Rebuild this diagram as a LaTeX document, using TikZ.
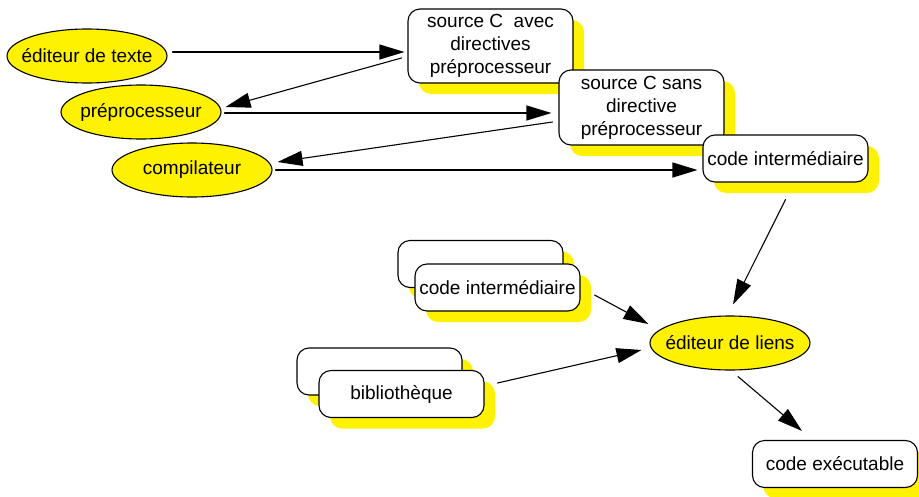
\documentclass[tikz,border=0pt]{standalone}
\usepackage{fontspec}
\setmainfont{Liberation Sans}
\usetikzlibrary{arrows.meta,shapes.geometric,shadows}
\begin{document}
\begin{tikzpicture}[x=1pt,y=-1pt,line width=1.1pt,
  >={Triangle[length=25pt,width=15pt]},
  line cap=round,line join=round,font=\fontsize{19}{23}\selectfont,
  outil/.style={ellipse,draw,fill=yellow,minimum width=160pt,
    minimum height=54pt,inner xsep=-10pt,inner ysep=8pt},
  fichier/.style={rectangle,rounded corners=12pt,draw,fill=white,
    minimum width=165pt,minimum height=47pt,inner sep=0pt,align=center,
    drop shadow={shadow xshift=11pt,shadow yshift=-11pt,
      fill=yellow,opacity=1}}]
  \useasboundingbox (0,0) rectangle (919,496);
  % outils
  \node[outil] (edT) at (87,56) {éditeur de texte};
  \node[outil] (pre) at (141,112) {préprocesseur};
  \node[outil] (comp) at (192,170) {compilateur};
  \node[outil] (liens) at (730,343) {éditeur de liens};
  % fichiers
  \node[fichier,minimum height=74pt] (srcA) at (490.5,46)
    {source C\ \ avec\\directives\\préprocesseur};
  \node[fichier,minimum height=75pt] (srcB) at (641.5,107.5)
    {source C sans\\directive\\préprocesseur};
  \node[fichier] (codeI) at (785.5,158.5) {code intermédiaire};
  \node[fichier] (ciBack) at (480.5,264) {};
  \node[fichier] (ci) at (497.5,287.5) {code intermédiaire};
  \node[fichier] (bibBack) at (379.5,371.5) {};
  \node[fichier] (bib) at (401.5,394) {bibliothèque};
  \node[fichier] (codeE) at (835,464) {code exécutable};
  % fleches
  \draw[->] ([shift={(5,-4)}]edT.east) -- ([shift={(-3,6)}]srcA.west);
  \draw[->] ([shift={(-6,12)}]srcA.west) -- ([shift={(4,-5)}]pre.east);
  \draw[->] ([shift={(3,1)}]pre.east) -- ([shift={(-7,5.5)}]srcB.west);
  \draw[->] ([shift={(-6,14.5)}]srcB.west) -- ([shift={(5,-8)}]comp.east);
  \draw[->] ([shift={(3,0)}]comp.east) -- ([shift={(-5,11.5)}]codeI.west);
  \draw[->] ([shift={(0,17)}]codeI.south) -- ([shift={(3,-11)}]liens.north);
  \draw[->] ([shift={(14,7.5)}]ci.east) -- ([shift={(-1,-19)}]liens.west);
  \draw[->] ([shift={(13,-11)}]bib.east) -- ([shift={(-8,7)}]liens.west);
  \draw[->] ([shift={(8,6)}]liens.south) -- ([shift={(-33,-9)}]codeE.north);
\end{tikzpicture}
\end{document}
